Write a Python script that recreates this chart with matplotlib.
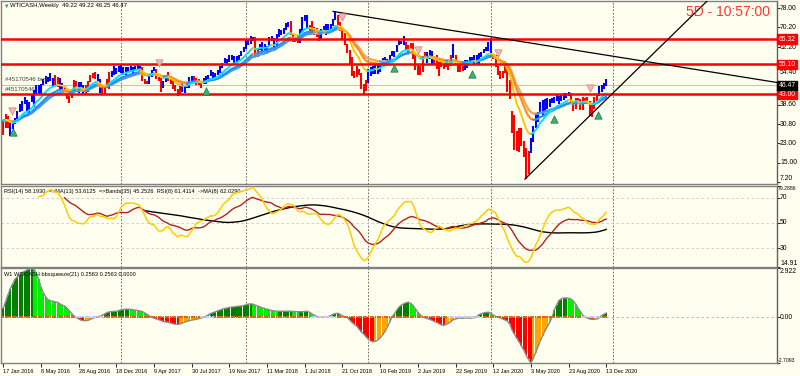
import matplotlib
matplotlib.use("Agg")
import matplotlib.pyplot as plt
import matplotlib.transforms as mtransforms
from matplotlib.collections import LineCollection
import numpy as np

plt.rcParams["font.family"] = ["Liberation Sans", "DejaVu Sans"]

# Weekly WTICASH bars, week 0 = 17 Jan 2016 ... week 256 = 13 Dec 2020
hi_2016 = [32.3, 34.8, 34.0, 31.3, 31.5, 33.2, 36.0, 38.8, 40.0, 41.9, 40.6, 39.9, 42.4, 44.5, 46.8, 46.8, 47.0,
           49.0, 50.2, 50.0, 51.7, 49.5, 50.8, 50.0, 49.5, 47.3, 46.3, 44.4, 42.3, 44.8, 48.8, 48.5, 47.8, 47.7,
           46.5, 46.5, 48.3, 50.7, 51.6, 51.9, 51.1, 49.0, 46.0, 46.2, 49.2, 51.8, 52.4, 54.5, 53.6, 54.4]
lo_2016 = [26.2, 29.3, 29.3, 26.1, 28.7, 30.6, 32.8, 35.7, 36.0, 38.8, 36.2, 35.2, 39.6, 37.6, 42.8, 43.0, 43.2,
           46.5, 47.2, 47.7, 48.4, 45.8, 46.7, 45.8, 44.6, 44.3, 43.8, 41.0, 39.2, 41.3, 44.5, 46.0, 43.5, 44.2,
           42.5, 43.0, 43.7, 48.0, 49.6, 49.3, 48.5, 43.6, 42.7, 43.0, 45.5, 44.9, 49.9, 50.6, 51.3, 52.0]
cl_2016 = [32.2, 33.7, 30.9, 29.4, 29.6, 32.8, 35.9, 38.5, 39.4, 39.5, 36.8, 39.7, 40.4, 43.7, 45.9, 44.7, 46.2,
           47.8, 49.3, 48.6, 49.1, 47.9, 47.6, 49.0, 45.4, 45.9, 44.2, 41.6, 41.8, 44.5, 48.5, 47.6, 44.4, 45.9,
           43.0, 44.5, 48.2, 50.4, 50.3, 50.8, 48.7, 44.1, 43.4, 46.0, 46.1, 51.7, 51.5, 51.9, 53.0, 53.7]

hi_2017 = [55.2, 54.0, 53.8, 54.0, 54.5, 54.0, 54.2, 54.9, 54.6, 53.8, 49.1, 48.5, 50.9, 52.9, 53.8, 53.3, 50.1,
           49.5, 48.2, 50.7, 52.0, 50.3, 48.6, 46.5, 45.0, 46.3, 47.3, 46.6, 47.4, 49.8, 50.4, 50.2, 49.6, 49.0,
           48.2, 49.4, 50.5, 50.8, 52.9, 52.0, 51.7, 52.9, 54.2, 55.7, 57.7, 57.2, 58.8, 58.7, 58.6, 58.3, 59.0,
           60.5, 62.2]
lo_2017 = [51.7, 50.7, 50.9, 52.0, 52.0, 51.2, 52.6, 53.0, 52.4, 48.4, 47.1, 47.0, 47.1, 50.1, 52.4, 49.3, 48.2,
           43.8, 45.6, 47.8, 48.2, 47.0, 45.2, 44.3, 42.1, 43.0, 43.8, 43.6, 45.4, 45.6, 48.0, 48.1, 46.5, 46.5,
           45.6, 47.0, 47.1, 49.3, 50.5, 49.0, 49.1, 50.6, 51.5, 53.7, 55.5, 54.8, 56.2, 56.8, 55.8, 56.1, 56.8,
           58.5, 60.1]
cl_2017 = [54.0, 52.4, 53.2, 53.2, 53.8, 53.8, 53.4, 54.0, 53.3, 48.5, 48.8, 47.9, 50.6, 52.2, 53.2, 49.6, 49.3,
           46.2, 47.8, 50.3, 49.8, 47.7, 45.8, 44.7, 43.0, 46.0, 44.2, 46.5, 45.8, 49.7, 49.6, 48.8, 48.5, 47.9,
           47.3, 47.5, 50.0, 50.7, 51.7, 49.3, 51.5, 51.8, 54.0, 55.6, 56.8, 56.6, 58.7, 58.4, 57.4, 57.3, 58.5,
           60.4, 61.4]

hi_2018 = [64.8, 64.9, 66.6, 66.3, 66.0, 61.8, 63.5, 64.2, 63.2, 62.4, 66.0, 66.6, 65.7, 67.5, 69.6, 69.0, 70.0,
           71.9, 72.3, 72.8, 68.0, 66.3, 67.1, 69.3, 74.5, 75.3, 75.3, 71.1, 72.9, 70.4, 69.9, 68.1, 69.6, 70.5,
           71.4, 71.4, 71.4, 73.7, 76.9, 75.3, 72.4, 69.6, 68.0, 63.5, 61.0, 57.9, 52.4, 54.6, 53.0, 51.4, 47.0,
           48.8]
lo_2018 = [61.2, 62.8, 63.3, 64.7, 58.1, 58.1, 60.8, 60.0, 60.1, 60.2, 62.0, 64.4, 61.8, 62.0, 66.2, 66.9, 67.5,
           69.0, 70.3, 67.0, 64.2, 64.2, 63.6, 63.6, 67.9, 72.8, 69.4, 67.0, 67.5, 67.0, 66.4, 64.5, 65.4, 68.4,
           67.0, 67.7, 68.6, 70.8, 73.1, 70.3, 68.5, 64.9, 62.9, 59.8, 54.7, 50.2, 49.4, 50.1, 50.6, 45.0, 42.4,
           44.4]
cl_2018 = [64.3, 63.4, 66.1, 65.5, 59.2, 61.7, 63.5, 62.0, 62.0, 62.3, 65.9, 64.9, 62.1, 67.4, 68.4, 68.1, 69.7,
           70.7, 71.3, 67.9, 65.8, 65.7, 65.1, 69.0, 74.2, 73.8, 71.0, 70.5, 68.7, 68.5, 67.6, 65.9, 68.7, 69.8,
           67.8, 69.0, 70.8, 73.3, 74.3, 71.3, 69.1, 67.6, 63.1, 60.2, 56.5, 50.4, 50.9, 52.6, 51.2, 45.6, 45.3,
           48.0]

hi_2019 = [53.3, 54.0, 54.3, 55.8, 55.3, 55.7, 57.8, 57.9, 57.3, 58.7, 60.4, 60.7, 63.1, 64.8, 64.6, 66.6, 64.3,
           62.8, 63.6, 63.7, 59.4, 54.8, 54.6, 58.0, 59.9, 60.0, 60.9, 60.4, 57.5, 58.8, 56.0, 57.4, 56.6, 56.9,
           57.1, 58.7, 63.4, 59.0, 56.4, 54.8, 54.6, 56.9, 56.9, 57.9, 58.0, 58.7, 58.7, 59.5, 60.3, 61.4, 62.3,
           64.1]
lo_2019 = [47.6, 50.3, 51.3, 51.3, 51.2, 51.9, 55.3, 54.5, 55.1, 55.8, 58.3, 58.1, 60.1, 62.8, 63.2, 63.0, 60.5,
           60.0, 60.9, 57.3, 52.9, 50.6, 50.6, 51.8, 57.1, 55.8, 57.2, 55.2, 55.1, 53.1, 50.5, 53.8, 53.0, 53.8,
           52.9, 54.6, 57.7, 55.2, 51.9, 52.1, 52.2, 52.9, 53.7, 55.8, 56.0, 55.0, 55.1, 55.3, 58.0, 59.8, 60.5,
           60.5]
cl_2019 = [51.6, 53.8, 53.7, 55.3, 52.7, 55.6, 57.3, 55.8, 56.1, 58.5, 59.0, 60.1, 63.1, 63.9, 64.0, 63.3, 61.9,
           61.7, 62.8, 58.6, 53.5, 54.0, 52.5, 57.4, 58.5, 57.5, 60.2, 55.6, 56.2, 55.7, 54.5, 54.9, 54.2, 55.1,
           56.5, 54.9, 58.1, 55.9, 52.8, 54.7, 53.8, 56.6, 56.2, 57.2, 57.7, 58.0, 55.2, 59.2, 60.1, 60.4, 61.7,
           63.1]

hi_2020 = [65.6, 59.3, 58.8, 54.6, 52.3, 52.2, 54.5, 53.6, 48.6, 36.0, 34.5, 28.0, 29.1, 29.0, 24.0, 21.0, 19.8,
           25.0, 29.9, 34.6, 35.5, 39.7, 40.4, 41.0, 41.5, 41.0, 41.5, 41.6, 42.5, 42.0, 43.0, 43.3, 43.3, 43.8,
           43.4, 40.1, 41.4, 41.2, 40.9, 41.6, 41.4, 41.7, 40.3, 39.1, 41.9, 42.5, 46.3, 46.7, 47.4, 49.22]
lo_2020 = [58.7, 57.4, 53.8, 50.8, 49.3, 49.5, 51.7, 44.0, 41.0, 27.3, 20.1, 20.0, 19.3, 22.0, 17.3, 8.4, 10.5,
           19.1, 23.5, 29.0, 31.8, 34.8, 34.5, 35.7, 37.0, 37.9, 39.3, 39.3, 40.3, 38.8, 40.1, 40.7, 41.5, 42.0,
           39.3, 36.1, 36.9, 38.9, 36.6, 36.7, 39.6, 39.8, 34.0, 33.6, 37.0, 40.0, 42.1, 43.9, 45.0, 46.25]
cl_2020 = [59.0, 58.5, 54.2, 51.6, 50.3, 52.0, 53.4, 44.8, 41.3, 31.7, 22.4, 21.5, 28.3, 22.8, 18.2, 16.9, 19.8,
           24.7, 29.4, 33.3, 35.3, 39.6, 36.3, 39.8, 38.5, 40.6, 40.5, 40.6, 41.3, 40.3, 41.2, 42.0, 42.3, 42.9,
           39.7, 37.3, 41.1, 40.3, 37.0, 40.6, 40.9, 39.9, 35.8, 37.1, 40.1, 42.2, 45.5, 46.3, 46.6, 46.47]

# bar colour runs: (number of weeks, 'b' blue / 'r' red)
bar_runs = [(3, 'r'), (19, 'b'), (2, 'r'), (2, 'b'), (6, 'r'), (3, 'b'), (5, 'r'), (2, 'b'), (4, 'r'), (13, 'b'),
            (3, 'r'), (3, 'b'), (3, 'r'), (2, 'b'), (6, 'r'), (5, 'b'), (4, 'r'), (22, 'b'), (2, 'r'), (13, 'b'),
            (4, 'r'), (4, 'b'), (5, 'r'), (7, 'b'), (13, 'r'), (16, 'b'), (9, 'r'), (3, 'b'), (8, 'r'), (1, 'b'),
            (4, 'r'), (12, 'b'), (16, 'r'), (17, 'b'), (12, 'r'), (4, 'b')]

# bbsqueeze(21) histogram, one value per week
squeeze = [0.55, 0.95, 1.35, 1.7, 2.0, 2.25, 2.4, 2.55, 2.65, 2.72,
           2.8, 2.87, 2.92, 2.85, 2.6, 2.25, 1.8, 1.45, 1.2, 1.05,
           0.98, 0.95, 0.92, 0.88, 0.8, 0.72, 0.67, 0.55, 0.4, 0.22,
           0.08, -0.02, -0.1, -0.17, -0.2, -0.2, -0.18, -0.12, -0.06, 0.0,
           0.03, 0.06, 0.12, 0.2, 0.28, 0.32, 0.34, 0.35, 0.36, 0.4,
           0.44, 0.46, 0.48, 0.48, 0.47, 0.45, 0.42, 0.4, 0.38, 0.34,
           0.26, 0.18, 0.08, 0.0, -0.05, -0.1, -0.14, -0.2, -0.25, -0.28,
           -0.3, -0.34, -0.38, -0.41, -0.42, -0.4, -0.34, -0.28, -0.24, -0.2,
           -0.17, -0.14, -0.12, -0.08, -0.04, 0.0, 0.06, 0.14, 0.22, 0.28,
           0.32, 0.38, 0.43, 0.48, 0.52, 0.55, 0.58, 0.6, 0.62, 0.64,
           0.66, 0.67, 0.7, 0.74, 0.78, 0.8, 0.78, 0.72, 0.67, 0.62,
           0.56, 0.52, 0.48, 0.44, 0.4, 0.38, 0.36, 0.36, 0.36, 0.36,
           0.36, 0.36, 0.36, 0.35, 0.34, 0.33, 0.33, 0.33, 0.34, 0.36,
           0.3, 0.2, 0.12, 0.06, 0.02, 0.0, 0.0, 0.02, 0.05, 0.1,
           0.18, 0.22, 0.24, 0.18, 0.08, 0.03, 0.0, -0.15, -0.3, -0.42,
           -0.52, -0.7, -0.85, -1.0, -1.15, -1.3, -1.4, -1.45, -1.42, -1.35,
           -1.22, -1.05, -0.85, -0.6, -0.3, 0.0, 0.2, 0.42, 0.6, 0.72,
           0.8, 0.86, 0.9, 0.82, 0.7, 0.5, 0.3, 0.15, 0.04, -0.03,
           -0.08, -0.12, -0.18, -0.24, -0.3, -0.38, -0.45, -0.48, -0.42, -0.36,
           -0.25, -0.15, -0.1, -0.06, -0.05, -0.05, -0.04, -0.04, -0.05, -0.04,
           -0.02, 0.05, 0.15, 0.22, 0.26, 0.29, 0.3, 0.24, 0.14, 0.06,
           0.01, -0.04, -0.1, -0.16, -0.22, -0.4, -0.75, -1.0, -1.25, -1.45,
           -1.7, -1.95, -2.25, -2.5, -2.71, -2.45, -2.1, -1.75, -1.4, -1.1,
           -0.8, -0.55, -0.3, 0.0, 0.45, 0.75, 1.0, 1.1, 1.14, 1.15,
           1.13, 1.08, 0.98, 0.8, 0.55, 0.35, 0.12, 0.03, -0.05, -0.1,
           -0.12, -0.12, -0.1, -0.04, 0.1, 0.18, 0.2563]
# squeeze dots on the zero line: 'o' orange, 'l' lavender
dot_runs = [(31, 'o'), (12, 'l'), (41, 'o'), (6, 'l'), (41, 'o'), (11, 'l'), (47, 'o'), (15, 'l'), (42, 'o'),
            (9, 'l'), (2, 'o')]

x_labels = ["17 Jan 2016", "8 May 2016", "28 Aug 2016", "18 Dec 2016", "9 Apr 2017", "30 Jul 2017",
            "19 Nov 2017", "11 Mar 2018", "1 Jul 2018", "21 Oct 2018", "10 Feb 2019", "2 Jun 2019",
            "22 Sep 2019", "12 Jan 2020", "3 May 2020", "23 Aug 2020", "13 Dec 2020"]
year_starts = [50, 103, 155, 207, 259]

levels = [65.32, 55.10, 43.00]
last_price = 46.47
down_trend = [(140, 76.6), (328.5, 47.7)]
up_trend = [(221.5, 8.4), (250, 35.1)]
fractals_up = [(4, 27.5), (86, 44.2), (166, 53.6), (199, 51.2), (234, 33.0), (252.5, 34.3)]
fractals_dn = [(3.5, 36.0), (66, 55.6), (144, 74.2), (176, 61.0), (210, 59.8), (249, 45.5)]

price_ticks = [78.00, 70.20, 62.20, 54.40, 46.60, 38.60, 30.80, 23.00, 15.00, 7.20]
rsi_ticks = [79.2886, 70, 50, 30, 14.91]
rsi_tick_text = ["79.2886", "70", "50", "30", "14.91"]
sq_ticks = [2.922, 0, -2.7093]
sq_tick_text = ["2.922", "0.00", "-2.7093"]

# ---------------------------------------------------------------------------
hi = np.array(hi_2016 + hi_2017 + hi_2018 + hi_2019 + hi_2020)
lo = np.array(lo_2016 + lo_2017 + lo_2018 + lo_2019 + lo_2020)
cl = np.array(cl_2016 + cl_2017 + cl_2018 + cl_2019 + cl_2020)
n = len(cl)
x = np.arange(n)
bar_cols = "".join(c * k for k, c in bar_runs)
dot_cols = "".join(c * k for k, c in dot_runs)


def ema(v, p):
    out = np.empty(len(v))
    out[0] = v[0]
    a = 2.0 / (p + 1)
    for i in range(1, len(v)):
        out[i] = out[i - 1] + a * (v[i] - out[i - 1])
    return out


def sma(v, p):
    out = np.full(len(v), np.nan)
    for i in range(p - 1, len(v)):
        w = v[i - p + 1:i + 1]
        if not np.isnan(w).any():
            out[i] = w.mean()
    return out


def rsi(v, p):
    d = np.diff(v)
    up, dn = np.clip(d, 0, None), np.clip(-d, 0, None)
    out = np.full(len(v), np.nan)
    au, ad = up[:p].mean(), dn[:p].mean()
    out[p] = 100 * au / (au + ad)
    for i in range(p + 1, len(v)):
        au = (au * (p - 1) + up[i - 1]) / p
        ad = (ad * (p - 1) + dn[i - 1]) / p
        out[i] = 100 * au / (au + ad)
    return out


def slope_line(ax, xs, ys, up_c, dn_c, lw):
    pts = np.column_stack([xs, ys])
    segs = np.stack([pts[:-1], pts[1:]], axis=1)
    cols = [up_c if ys[i + 1] >= ys[i] else dn_c for i in range(len(ys) - 1)]
    ax.add_collection(LineCollection(segs, colors=cols, linewidths=lw, zorder=3, capstyle="round"))


BG = "#fffff0"
W, H = 800, 376
AX_W = 776
fig = plt.figure(figsize=(8, 3.76), dpi=100, facecolor=BG)


def panel(top, bottom):
    return fig.add_axes([1 / W, 1 - bottom / H, AX_W / W, (bottom - top) / H], facecolor=BG)


def right_labels(ax, vals, texts, vas, shift=None, size=4.9):
    ax.set_yticks(vals)
    ax.set_yticklabels([])
    tr = mtransforms.blended_transform_factory(ax.transAxes, ax.transData)
    for i, (v, t, va) in enumerate(zip(vals, texts, vas)):
        if not t:
            continue
        ttr = tr
        if shift and i in shift:
            ttr = tr + mtransforms.ScaledTranslation(0, shift[i] / 100, fig.dpi_scale_trans)
        if len(t) < 6:
            ax.text(1 + 3 / AX_W, v, t, transform=ttr, ha="left", va=va, fontsize=size, clip_on=False)
        else:
            ax.text(1 + 1 / AX_W, v, t, transform=ttr, ha="left", va=va, fontsize=3.7, clip_on=False)


ax1 = panel(1, 184)
ax2 = panel(186, 267)
ax3 = panel(268, 363)
XL = (-1, -1 + AX_W / 2.355)

for ax in (ax1, ax2, ax3):
    ax.set_xlim(*XL)
    for s in ax.spines.values():
        s.set_color("#808080")
        s.set_linewidth(1.0)
    ax.spines["right"].set_color("#606060")
    ax.yaxis.tick_right()
    ax.tick_params(axis="y", direction="out", length=2, width=0.6, colors="black")
    ax.tick_params(axis="x", length=0, labelbottom=False)
    for ys in year_starts:
        ax.axvline(ys, color="#555555", lw=0.6, ls=(0, (2, 2)), zorder=1)

# --- price panel ---
ax1.set_ylim(6.39, 80.85)
right_labels(ax1, price_ticks,
             [f"{v:.2f}" if v != 46.60 else "" for v in price_ticks],
             ["center", "center", "center", "top", "center", "center", "center", "center", "center", "bottom"],
             shift={2: -1, 3: -3})
ax1.axhline(last_price, color="#9ed89e", lw=0.7, zorder=1)
ax1.vlines(x, lo, hi, colors=["#0000ff" if c == "b" else "#ff0000" for c in bar_cols], lw=1.5, zorder=2)
slope_line(ax1, x, ema(cl, 21), "#4a9be0", "#f4a460", 1.6)
slope_line(ax1, x, ema(cl, 17), "#2f8ff0", "#ff8c1a", 1.5)
slope_line(ax1, x, ema(cl, 10), "#00e0ff", "#ffc400", 1.3)
for v in levels:
    ax1.axhline(v, color="#ff0000", lw=1.8, zorder=5)
(dx0, dy0), (dx1, dy1) = down_trend
k = (dy1 - dy0) / (dx1 - dx0)
ax1.plot([dx0, XL[1]], [dy0, dy0 + k * (XL[1] - dx0)], color="black", lw=0.9, zorder=6)
(ux0, uy0), (ux1, uy1) = up_trend
k = (uy1 - uy0) / (ux1 - ux0)
ax1.plot([ux0, XL[1]], [uy0, uy0 + k * (XL[1] - ux0)], color="black", lw=0.9, zorder=6)
fu = np.array(fractals_up)
fd = np.array(fractals_dn)
ax1.scatter(fu[:, 0], fu[:, 1], marker="^", s=28, facecolor="#3cb371", edgecolor="#1f6f3f", lw=0.5, zorder=7)
ax1.scatter(fd[:, 0], fd[:, 1], marker="v", s=28, facecolor="#f2b8b8", edgecolor="#d08080", lw=0.5, zorder=7)

tr = mtransforms.blended_transform_factory(ax1.transAxes, ax1.transData)
for v in levels:
    ax1.text(1.002, v, f"{v:.2f}", transform=tr, ha="left", va="center", fontsize=4.9, color="white",
             bbox=dict(boxstyle="square,pad=0.18", fc="#ff0000", ec="#ff0000"), zorder=10, clip_on=False)
ax1.text(1.002, last_price, f"{last_price:.2f}", transform=tr, ha="left", va="center", fontsize=4.9,
         color="white", bbox=dict(boxstyle="square,pad=0.18", fc="black", ec="black"), zorder=10, clip_on=False)

ax1.text(4 / AX_W, 48.2, "#45170546 buy", transform=tr, fontsize=4.4, color="#404040", zorder=4)
ax1.text(4 / AX_W, 44.2, "#45170546", transform=tr, fontsize=4.4, color="#404040", zorder=4)
fig.text(4 / W, 1 - 6 / H, "\u25bc", fontsize=4, color="#2e8b57", va="center")
fig.text(10 / W, 1 - 6 / H, "WTICASH,Weekly  49.22 49.22 46.25 46.47", fontsize=4.3, va="center")
fig.text(686 / W, 1 - 12 / H, "5D - 10:57:00", fontsize=10, color="#ff3333", ha="left", va="center")

# --- RSI panel ---
ax2.set_ylim(14.91, 79.2886)
right_labels(ax2, rsi_ticks, rsi_tick_text, ["top", "center", "center", "center", "bottom"])
for v in (70, 50, 30):
    ax2.axhline(v, color="#c8c8c8", lw=0.6, ls=(0, (3, 3)), zorder=1)
rsi_ma13 = sma(rsi(cl, 14), 13)
ax2.plot(x, sma(rsi_ma13, 35), color="black", lw=1.0, zorder=3)
ax2.plot(x, rsi_ma13, color="#b22222", lw=1.0, zorder=4)
ax2.plot(x, sma(rsi(cl, 8), 8), color="#ffcc00", lw=1.1, zorder=5)
ax2.text(3 / AX_W, 0.93, "RSI(14) 58.1930  =>MA(13) 53.6125  =>Bands(35) 45.2526  RSI(8) 61.4114  ->MA(8) 62.0290",
         transform=ax2.transAxes, fontsize=4.1, va="center")

# --- bbsqueeze panel ---
ax3.set_ylim(-2.7093, 2.922)
right_labels(ax3, sq_ticks, sq_tick_text, ["top", "center", "bottom"])
sq = np.array(squeeze)
prev = np.concatenate([[0], sq[:-1]])
sq_cols = []
for v, p in zip(sq, prev):
    if v >= 0:
        sq_cols.append("#008000" if v >= p else "#00ee00")
    else:
        sq_cols.append("#ff0000" if v < p else "#ffa500")
ax3.bar(x, sq, width=0.85, color=sq_cols, lw=0, zorder=2)
ax3.plot(x, sq, color="#8a8a8a", lw=1.0, zorder=3)
ax3.axhline(0, color="#a8a8c8", lw=0.6, ls=(0, (3, 3)), zorder=1)
ax3.scatter(x, np.zeros(n), marker="s", s=1.6, lw=0,
            color=["#d2691e" if c == "o" else "#c8c8f0" for c in dot_cols], zorder=4)
ax3.text(3 / AX_W, 0.93, "W1 WTICASH bbsqueeze(21) 0.2563 0.2563 0.0000", transform=ax3.transAxes,
         fontsize=4.1, va="center")
ax3.set_xticks([16 * i for i in range(len(x_labels))])
ax3.set_xticklabels(x_labels)
ax3.tick_params(axis="x", labelbottom=True, length=3, width=0.6, direction="out", labelsize=4.0, pad=1)
for t in ax3.get_xticklabels():
    t.set_ha("left")

fig.savefig("out.png", dpi=100, facecolor=BG)
